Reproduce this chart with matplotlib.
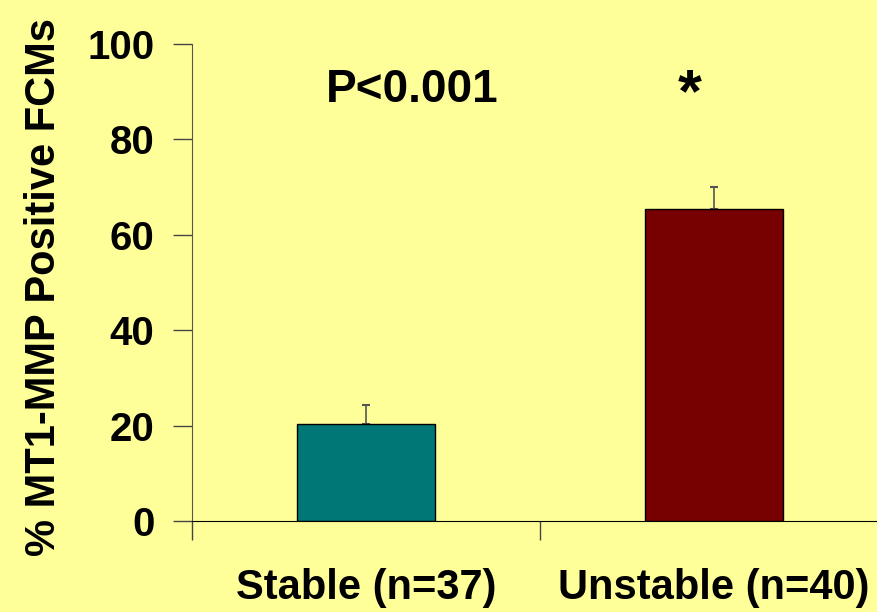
import matplotlib
matplotlib.use("Agg")
import matplotlib.pyplot as plt

categories = ["Stable (n=37)", "Unstable (n=40)"]
values = [20.3, 65.5]
errors = [4.1, 4.5]
colors = ["#007777", "#770000"]
yticks = [0, 20, 40, 60, 80, 100]
ylabel = "% MT1-MMP Positive FCMs"
pval_text = "P<0.001"
sig_text = "*"

plt.rcParams['font.family'] = ['Liberation Sans', 'DejaVu Sans']
plt.rcParams['font.weight'] = 'bold'

bg = "#FFFF99"
W, H = 877, 612
fig = plt.figure(figsize=(W / 100, H / 100), dpi=100, facecolor=bg)
ax = fig.add_axes([192 / W, 91 / H, 696 / W, 477 / H], facecolor=bg)

x = list(range(len(categories)))
ax.bar(x, values, width=0.397, color=colors, edgecolor="black", linewidth=1.0, zorder=2)
ax.errorbar(x, values, yerr=[[0] * len(errors), errors], fmt="none",
            ecolor="#555555", elinewidth=1.2, capsize=3, capthick=1.5, zorder=1)

ax.set_xlim(-0.5, 1.5)
ax.set_ylim(0, 100)
ax.set_yticks(yticks)
ax.set_yticklabels([str(t) for t in yticks], fontsize=29, fontweight='bold')
ax.tick_params(axis='y', direction='out', length=14, width=1, color="#444444", pad=13)

ax.set_xticks(x)
ax.set_xticklabels(categories, fontsize=30, fontweight='bold')
ax.tick_params(axis='x', which='major', length=0, pad=34)
ax.set_xticks([-0.5, 0.5, 1.5], minor=True)
ax.tick_params(axis='x', which='minor', direction='out', length=14, width=1, color="#444444")

for s in ["top", "right"]:
    ax.spines[s].set_visible(False)
ax.spines["left"].set_color("#555555")
ax.spines["bottom"].set_color("black")

fig.text(44 / W, 1 - 287 / H, ylabel, rotation=90, fontsize=30, fontweight='bold',
         ha='center', va='center')

ax.text(0.133, 90.3, pval_text, fontsize=33, fontweight='bold', ha='center', va='center')
ax.text(0.93, 89.2, sig_text, fontsize=44, fontweight='bold', ha='center', va='center')

fig.savefig("out.png", dpi=100, facecolor=bg)
